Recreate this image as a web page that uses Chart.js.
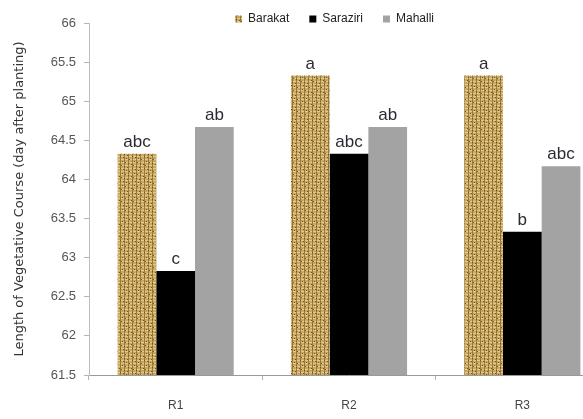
<!DOCTYPE html>
<html>
<head>
<meta charset="utf-8">
<script src="https://cdn.jsdelivr.net/npm/chart.js@4/dist/chart.umd.min.js"></script>
<style>
  html, body { margin: 0; padding: 0; background: #fff; overflow: hidden; }
  #wrap { position: relative; width: 615px; height: 419px; }
</style>
</head>
<body>
<div id="wrap"><canvas id="c"></canvas></div>
<script>
// ---- data ----
const categories = ["R1", "R2", "R3"];
const seriesNames = ["Barakat", "Saraziri", "Mahalli"];
const barakat = [64.33, 65.33, 65.33];
const saraziri = [62.83, 64.33, 63.33];
const mahalli = [64.67, 64.67, 64.17];
const barakatLetters = ["abc", "a", "a"];
const saraziriLetters = ["c", "abc", "b"];
const mahalliLetters = ["ab", "ab", "abc"];
const yTitle = "Length of Vegetative Course (day after planting)";
const yMin = 61.5, yMax = 66, yStep = 0.5;

// ---- burlap-like texture (deterministic) ----
function makeBurlap() {
  const p = document.createElement('canvas');
  p.width = 12; p.height = 12;
  const g = p.getContext('2d');
  g.fillStyle = '#c9a75e';
  g.fillRect(0, 0, 12, 12);
  for (let y = 0; y < 12; y++) {
    for (let x = 0; x < 12; x++) {
      let c = null;
      if (x % 4 === 0) c = '#9a773a';
      else if (y % 3 === 0) c = '#e2c98e';
      if ((x * 7 + y * 5) % 13 === 0) c = '#6f5228';
      if (c) { g.fillStyle = c; g.fillRect(x, y, 1, 1); }
    }
  }
  return g.createPattern(p, 'repeat');
}
const ctx = document.getElementById('c').getContext('2d');
const burlap = makeBurlap();

const letters = [barakatLetters, saraziriLetters, mahalliLetters];

const letterPlugin = {
  id: 'letters',
  afterDatasetsDraw(chart) {
    const c = chart.ctx;
    c.save();
    c.font = '17px "Liberation Sans", Arial, sans-serif';
    c.fillStyle = '#2b2b33';
    c.textAlign = 'center';
    c.textBaseline = 'bottom';
    chart.data.datasets.forEach((ds, i) => {
      chart.getDatasetMeta(i).data.forEach((bar, j) => {
        c.fillText(letters[i][j], bar.x, bar.y - 3);
      });
    });
    c.restore();
  }
};

const legendShift = {
  id: 'legendShift',
  afterLayout(chart) {
    const lg = chart.legend;
    if (lg) { lg.left += 30; lg.right += 30; lg.top += 12; lg.bottom += 12; }
  }
};

new Chart(ctx, {
  type: 'bar',
  data: {
    labels: categories,
    datasets: [
      { label: seriesNames[0], data: barakat, backgroundColor: burlap, borderWidth: 0 },
      { label: seriesNames[1], data: saraziri, backgroundColor: '#000000', borderWidth: 0 },
      { label: seriesNames[2], data: mahalli, backgroundColor: '#a3a3a3', borderWidth: 0 }
    ]
  },
  options: {
    responsive: true,
    maintainAspectRatio: false,
    animation: false,
    devicePixelRatio: 1,
    layout: { padding: { left: 0, right: 6, top: -19, bottom: 0 } },
    datasets: { bar: { barPercentage: 1.0, categoryPercentage: 0.67 } },
    plugins: {
      tooltip: { enabled: false },
      legend: {
        display: true,
        position: 'top',
        labels: {
          boxWidth: 7, boxHeight: 7, padding: 20,
          color: '#222',
          font: { size: 12, family: '"Liberation Sans", Arial, sans-serif' }
        }
      }
    },
    scales: {
      x: {
        grid: { drawOnChartArea: false, drawTicks: true, tickLength: 5, color: '#b5b5b5' },
        border: { color: '#9a9a9a', width: 1 },
        ticks: { color: '#444', padding: 18, font: { size: 12, family: '"Liberation Sans", Arial, sans-serif' } },
        afterFit(s) { s.height = 44; }
      },
      y: {
        min: yMin, max: yMax,
        grid: { drawOnChartArea: false, drawTicks: true, tickLength: 5, color: '#b5b5b5' },
        border: { color: '#bdbdbd', width: 1 },
        ticks: {
          stepSize: yStep, color: '#555', padding: 8,
          font: { size: 13, family: '"Liberation Sans", Arial, sans-serif' },
          callback: v => String(Math.round(v * 10) / 10)
        },
        title: {
          display: true, text: yTitle, color: '#333', padding: { top: 12, bottom: 6 },
          font: { size: 13, family: '"DejaVu Sans", sans-serif' }
        },
        afterFit(s) { s.width = 89; }
      }
    }
  },
  plugins: [letterPlugin, legendShift]
});
</script>
</body>
</html>
